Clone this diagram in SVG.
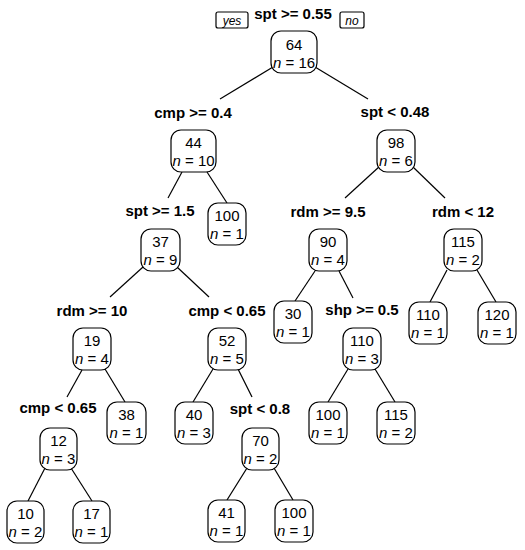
<svg xmlns="http://www.w3.org/2000/svg" width="525" height="550" viewBox="0 0 525 550">
<style>
.b{fill:#fff;stroke:#000;stroke-width:1.2}
.v{font-family:"Liberation Sans",Arial,sans-serif;font-size:15px;text-anchor:middle;fill:#000}
.n{font-style:italic}
.l{font-family:"Liberation Sans",Arial,sans-serif;font-size:15px;font-weight:bold;text-anchor:middle;fill:#000}
.yn{font-family:"Liberation Sans",Arial,sans-serif;font-size:12px;font-style:italic;text-anchor:middle;fill:#000}
.e{stroke:#000;stroke-width:1.2;fill:none}
</style>
<rect width="525" height="550" fill="#fff"/>
<g id="connectors" class="e">
<line x1="273" y1="67" x2="220" y2="99"/>
<line x1="315" y1="67" x2="368" y2="99"/>
<line x1="182" y1="172" x2="168" y2="198"/>
<line x1="207" y1="172" x2="227" y2="203"/>
<line x1="380" y1="166" x2="345" y2="198"/>
<line x1="413" y1="167" x2="445" y2="198"/>
<line x1="143" y1="267" x2="110" y2="297"/>
<line x1="177" y1="267" x2="209" y2="297"/>
<line x1="315" y1="271" x2="295" y2="301"/>
<line x1="339" y1="271" x2="353" y2="298"/>
<line x1="447" y1="270" x2="430" y2="302"/>
<line x1="477" y1="270" x2="496" y2="302"/>
<line x1="82" y1="370" x2="67" y2="397"/>
<line x1="105" y1="369" x2="125" y2="402"/>
<line x1="213" y1="369" x2="193" y2="402"/>
<line x1="238" y1="369" x2="252" y2="397"/>
<line x1="348" y1="369" x2="328" y2="402"/>
<line x1="375" y1="369" x2="395" y2="402"/>
<line x1="45" y1="468" x2="28" y2="501"/>
<line x1="71" y1="468" x2="92" y2="501"/>
<line x1="247" y1="468" x2="227" y2="500"/>
<line x1="274" y1="468" x2="293" y2="500"/>
</g>
<g id="labels">
<rect class="b" x="216" y="12" width="32" height="16" rx="2"/>
<text class="yn" x="232" y="24.5">yes</text>
<rect class="b" x="340" y="12" width="24" height="16" rx="2"/>
<text class="yn" x="352" y="24.5">no</text>
<text class="l" x="293" y="19">spt &gt;= 0.55</text>
<text class="l" x="193" y="118">cmp &gt;= 0.4</text>
<text class="l" x="395" y="117">spt &lt; 0.48</text>
<text class="l" x="160" y="216">spt &gt;= 1.5</text>
<text class="l" x="328" y="217">rdm &gt;= 9.5</text>
<text class="l" x="463" y="217">rdm &lt; 12</text>
<text class="l" x="92" y="316">rdm &gt;= 10</text>
<text class="l" x="227" y="316">cmp &lt; 0.65</text>
<text class="l" x="362" y="315">shp &gt;= 0.5</text>
<text class="l" x="58" y="413">cmp &lt; 0.65</text>
<text class="l" x="260" y="414">spt &lt; 0.8</text>
</g>
<g id="n1"><rect class="b" x="271" y="31" width="46" height="42" rx="10"/><text class="v" x="294" y="50">64</text><text class="v" x="294" y="68"><tspan class="n">n</tspan> = 16</text></g>
<g id="n2"><rect class="b" x="171" y="130" width="45" height="42" rx="10"/><text class="v" x="193.5" y="148">44</text><text class="v" x="193.5" y="166"><tspan class="n">n</tspan> = 10</text></g>
<g id="n3"><rect class="b" x="377" y="130" width="38" height="42" rx="10"/><text class="v" x="396" y="148">98</text><text class="v" x="396" y="166"><tspan class="n">n</tspan> = 6</text></g>
<g id="n5"><rect class="b" x="208" y="203" width="38" height="42" rx="10"/><text class="v" x="227" y="221">100</text><text class="v" x="227" y="239"><tspan class="n">n</tspan> = 1</text></g>
<g id="n4"><rect class="b" x="141" y="229" width="39" height="42" rx="10"/><text class="v" x="160.5" y="247">37</text><text class="v" x="160.5" y="265"><tspan class="n">n</tspan> = 9</text></g>
<g id="n6"><rect class="b" x="309" y="229" width="38" height="42" rx="10"/><text class="v" x="328" y="247">90</text><text class="v" x="328" y="265"><tspan class="n">n</tspan> = 4</text></g>
<g id="n7"><rect class="b" x="444" y="229" width="38" height="42" rx="10"/><text class="v" x="463" y="247">115</text><text class="v" x="463" y="265"><tspan class="n">n</tspan> = 2</text></g>
<g id="n12"><rect class="b" x="274" y="301" width="38" height="42" rx="10"/><text class="v" x="293" y="319">30</text><text class="v" x="293" y="337"><tspan class="n">n</tspan> = 1</text></g>
<g id="n14"><rect class="b" x="409" y="302" width="38" height="42" rx="10"/><text class="v" x="428" y="320">110</text><text class="v" x="428" y="338"><tspan class="n">n</tspan> = 1</text></g>
<g id="n15"><rect class="b" x="478" y="302" width="38" height="42" rx="10"/><text class="v" x="497" y="320">120</text><text class="v" x="497" y="338"><tspan class="n">n</tspan> = 1</text></g>
<g id="n13"><rect class="b" x="343" y="328" width="38" height="42" rx="10"/><text class="v" x="362" y="346">110</text><text class="v" x="362" y="364"><tspan class="n">n</tspan> = 3</text></g>
<g id="n8"><rect class="b" x="73" y="328" width="38" height="42" rx="10"/><text class="v" x="92" y="346">19</text><text class="v" x="92" y="364"><tspan class="n">n</tspan> = 4</text></g>
<g id="n9"><rect class="b" x="208" y="328" width="38" height="42" rx="10"/><text class="v" x="227" y="346">52</text><text class="v" x="227" y="364"><tspan class="n">n</tspan> = 5</text></g>
<g id="n17"><rect class="b" x="107" y="402" width="39" height="42" rx="10"/><text class="v" x="126.5" y="420">38</text><text class="v" x="126.5" y="438"><tspan class="n">n</tspan> = 1</text></g>
<g id="n18"><rect class="b" x="175" y="402" width="38" height="42" rx="10"/><text class="v" x="194" y="420">40</text><text class="v" x="194" y="438"><tspan class="n">n</tspan> = 3</text></g>
<g id="n26"><rect class="b" x="309" y="402" width="38" height="42" rx="10"/><text class="v" x="328" y="420">100</text><text class="v" x="328" y="438"><tspan class="n">n</tspan> = 1</text></g>
<g id="n27"><rect class="b" x="377" y="402" width="38" height="42" rx="10"/><text class="v" x="396" y="420">115</text><text class="v" x="396" y="438"><tspan class="n">n</tspan> = 2</text></g>
<g id="n16"><rect class="b" x="40" y="428" width="37" height="42" rx="10"/><text class="v" x="58.5" y="446">12</text><text class="v" x="58.5" y="464"><tspan class="n">n</tspan> = 3</text></g>
<g id="n19"><rect class="b" x="242" y="428" width="37" height="42" rx="10"/><text class="v" x="260.5" y="446">70</text><text class="v" x="260.5" y="464"><tspan class="n">n</tspan> = 2</text></g>
<g id="n32"><rect class="b" x="7" y="501" width="37" height="42" rx="10"/><text class="v" x="25.5" y="519">10</text><text class="v" x="25.5" y="537"><tspan class="n">n</tspan> = 2</text></g>
<g id="n33"><rect class="b" x="73" y="501" width="37" height="42" rx="10"/><text class="v" x="91.5" y="519">17</text><text class="v" x="91.5" y="537"><tspan class="n">n</tspan> = 1</text></g>
<g id="n38"><rect class="b" x="208" y="500" width="37" height="42" rx="10"/><text class="v" x="226.5" y="518">41</text><text class="v" x="226.5" y="536"><tspan class="n">n</tspan> = 1</text></g>
<g id="n39"><rect class="b" x="275" y="500" width="38" height="42" rx="10"/><text class="v" x="294" y="518">100</text><text class="v" x="294" y="536"><tspan class="n">n</tspan> = 1</text></g>
</svg>
